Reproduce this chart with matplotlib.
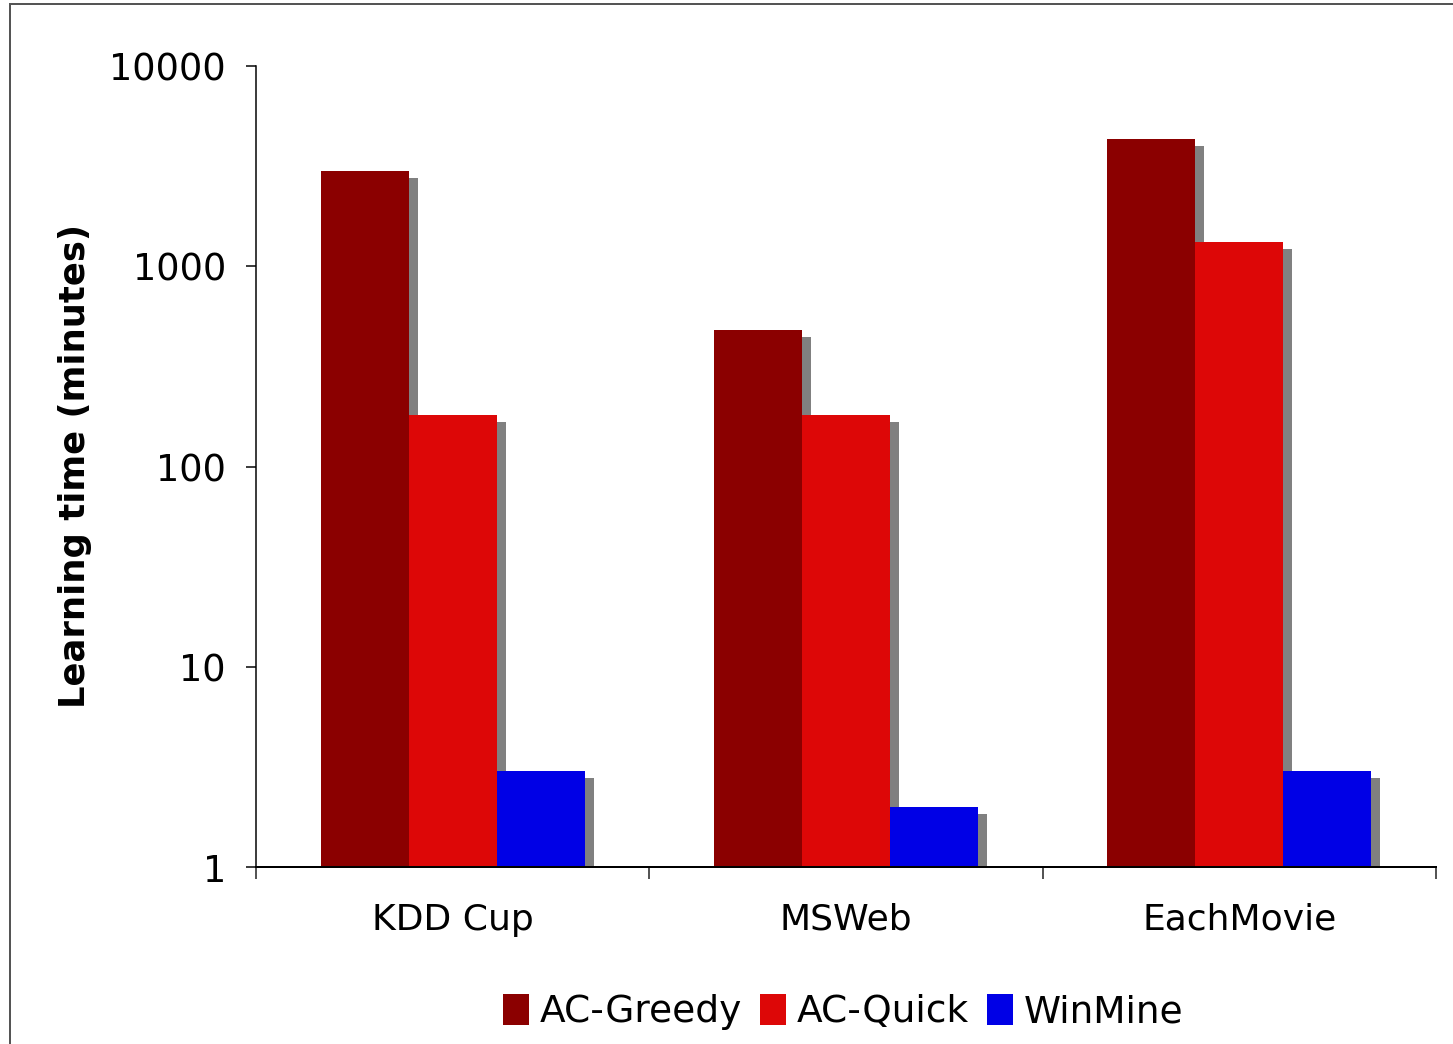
import matplotlib
matplotlib.use("Agg")
import matplotlib.pyplot as plt
import matplotlib.transforms as mtransforms
from matplotlib.patches import Rectangle
from matplotlib.ticker import FixedLocator, NullLocator, FixedFormatter
import numpy as np

# Learning time per dataset (minutes)
datasets = ["KDD Cup", "MSWeb", "EachMovie"]
series_names = ["AC-Greedy", "AC-Quick", "WinMine"]
ac_greedy = [3000, 480, 4300]
ac_quick = [180, 180, 1320]
winmine = [3, 2, 3]
y_ticks = [1, 10, 100, 1000, 10000]
y_tick_labels = ["1", "10", "100", "1000", "10000"]

colors = ["#8b0000", "#dd0707", "#0000e6"]
shadow_color = "#808080"

W, H, DPI = 1453, 1044, 100
PT = 72 / DPI  # points per pixel
fig = plt.figure(figsize=(W / DPI, H / DPI), dpi=DPI)
fig.patch.set_facecolor("white")

# outer frame
fig.patches.append(Rectangle((10 / W, -0.05), 1.2, 1 - 4 / H + 0.05,
                             transform=fig.transFigure, fill=False,
                             edgecolor="#555555", linewidth=2 * PT, zorder=0))

ax = fig.add_axes([256 / W, 1 - 867 / H, (1436 - 256) / W, (867 - 66) / H])
ax.set_yscale("log")
ax.set_ylim(1, 10000)
ax.set_xlim(-0.5, len(datasets) - 0.5)

bar_w = 88 / ((1436 - 256) / 3)
x = np.arange(len(datasets))
all_series = [ac_greedy, ac_quick, winmine]
shadow_tf = ax.transData + mtransforms.ScaledTranslation(9 / DPI, -7 / DPI, fig.dpi_scale_trans)

for i, vals in enumerate(all_series):
    pos = x + (i - 1) * bar_w
    heights = np.array(vals, dtype=float) - 1
    ax.bar(pos, heights, bottom=1, width=bar_w, color=shadow_color,
           transform=shadow_tf, zorder=1, linewidth=0)
for i, (vals, name, col) in enumerate(zip(all_series, series_names, colors)):
    pos = x + (i - 1) * bar_w
    heights = np.array(vals, dtype=float) - 1
    ax.bar(pos, heights, bottom=1, width=bar_w, color=col, label=name,
           zorder=2, linewidth=0)

ax.spines["top"].set_visible(False)
ax.spines["right"].set_visible(False)
ax.spines["bottom"].set_linewidth(2 * PT)
ax.spines["left"].set_linewidth(1.5 * PT)
ax.spines["bottom"].set_zorder(3)

ax.yaxis.set_major_locator(FixedLocator(y_ticks))
ax.yaxis.set_major_formatter(FixedFormatter(y_tick_labels))
ax.yaxis.set_minor_locator(NullLocator())
ax.tick_params(axis="y", which="major", direction="out", length=10 * PT,
               width=1.5 * PT, labelsize=26.5, pad=20 * PT, colors="black")

ax.set_xticks(x)
ax.set_xticklabels(datasets)
ax.set_xticks(np.arange(len(datasets) + 1) - 0.5, minor=True)
ax.tick_params(axis="x", which="major", length=0, labelsize=26, pad=36 * PT)
ax.tick_params(axis="x", which="minor", direction="out", length=12 * PT,
               width=2 * PT, color="#555555")

ax.set_ylabel("Learning time (minutes)", fontsize=25.5, fontweight="bold",
              labelpad=17 * PT)

leg = fig.legend(loc="center", bbox_to_anchor=(843 / W, 1 - 1012 / H), ncol=3,
                 frameon=False, handlelength=0.7, handleheight=0.9,
                 handletextpad=0.27, columnspacing=0.49,
                 prop={"family": ["Liberation Sans Narrow", "DejaVu Sans"], "size": 27})

fig.savefig("out.png", dpi=DPI, facecolor="white")
